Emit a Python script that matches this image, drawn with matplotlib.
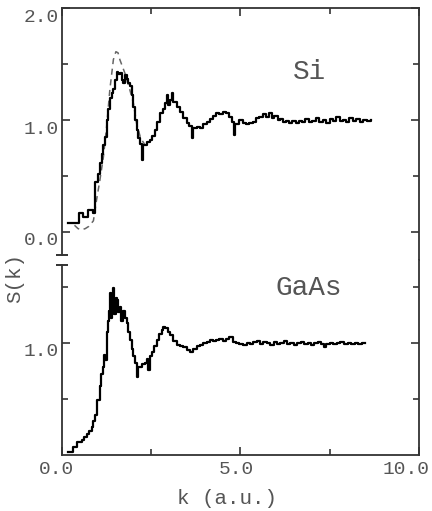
import numpy as np
import matplotlib
matplotlib.use("Agg")
import matplotlib.pyplot as plt
from matplotlib.transforms import ScaledTranslation

plt.rcParams['font.family'] = ['Liberation Mono', 'DejaVu Sans Mono']

# Si: measured S(k) (solid) and model curve (dashed)
si_k = [0.17, 0.49, 0.60, 0.74, 0.88, 0.92, 1.00, 1.06, 1.11, 1.16, 1.20, 1.25, 1.30, 1.34,
        1.39, 1.44, 1.48, 1.53, 1.58, 1.62, 1.67, 1.72, 1.76, 1.81, 1.86, 1.90, 1.95, 2.00,
        2.05, 2.09, 2.14, 2.18, 2.23, 2.27, 2.32, 2.39, 2.46, 2.53, 2.60, 2.67, 2.75, 2.82,
        2.89, 2.93, 2.98, 3.03, 3.08, 3.12, 3.21, 3.30, 3.40, 3.50, 3.57, 3.64, 3.68, 3.78,
        3.87, 3.96, 4.06, 4.15, 4.23, 4.31, 4.40, 4.50, 4.59, 4.68, 4.75, 4.82, 4.86, 4.96,
        5.06, 5.15, 5.25, 5.34, 5.43, 5.52, 5.62, 5.71, 5.80, 5.88, 5.94, 6.04, 6.12, 6.19,
        6.28, 6.36, 6.45, 6.55, 6.64, 6.73, 6.82, 6.91, 7.00, 7.11, 7.20, 7.30, 7.40, 7.50,
        7.59, 7.68, 7.78, 7.87, 7.96, 8.04, 8.14, 8.24, 8.34, 8.44, 8.54, 8.66]
si_s = [0.08, 0.17, 0.13, 0.20, 0.17, 0.45, 0.52, 0.62, 0.70, 0.78, 0.85, 1.00, 1.10, 1.20,
        1.24, 1.28, 1.36, 1.43, 1.41, 1.42, 1.36, 1.33, 1.40, 1.37, 1.33, 1.30, 1.22, 1.12,
        1.00, 0.91, 0.84, 0.79, 0.64, 0.78, 0.78, 0.80, 0.82, 0.86, 0.91, 0.98, 1.06, 1.10,
        1.15, 1.22, 1.13, 1.18, 1.24, 1.16, 1.12, 1.07, 1.02, 0.97, 0.95, 0.84, 0.93, 0.94,
        0.93, 0.96, 0.98, 1.01, 1.04, 1.06, 1.05, 1.07, 1.06, 1.03, 0.98, 0.87, 0.96, 1.00,
        0.97, 0.96, 0.97, 0.98, 1.02, 1.03, 1.05, 1.03, 1.06, 1.02, 1.04, 1.00, 1.01, 0.98,
        0.99, 0.97, 0.99, 0.97, 0.99, 0.98, 1.01, 0.98, 0.99, 1.02, 0.98, 1.00, 0.97, 1.01,
        0.99, 1.03, 0.99, 1.00, 0.98, 1.02, 0.99, 1.01, 0.98, 1.00, 0.99, 1.00]

si_model_k = [0.35, 0.45, 0.55, 0.65, 0.75, 0.88, 0.97, 1.06, 1.16, 1.25, 1.34, 1.44, 1.51,
              1.57, 1.62, 1.76, 1.90, 2.00, 2.09, 2.20, 2.32]
si_model_s = [0.06, 0.03, 0.02, 0.03, 0.05, 0.10, 0.29, 0.46, 0.67, 0.94, 1.27, 1.54, 1.61,
              1.60, 1.54, 1.42, 1.27, 1.15, 0.97, 0.84, 0.78]

# GaAs: measured S(k)
gaas_k = [0.18, 0.32, 0.41, 0.55, 0.62, 0.69, 0.76, 0.83, 0.88, 0.92, 0.99, 1.06, 1.10, 1.14,
          1.18, 1.21, 1.25, 1.30, 1.33, 1.34, 1.37, 1.41, 1.44, 1.47, 1.50, 1.53, 1.57, 1.62,
          1.66, 1.72, 1.76, 1.81, 1.86, 1.90, 1.95, 2.00, 2.05, 2.09, 2.12, 2.18, 2.25, 2.32,
          2.37, 2.42, 2.46, 2.51, 2.58, 2.65, 2.72, 2.79, 2.84, 2.89, 2.96, 3.03, 3.12, 3.21,
          3.30, 3.40, 3.50, 3.59, 3.68, 3.77, 3.86, 3.96, 4.05, 4.15, 4.23, 4.31, 4.40, 4.50,
          4.59, 4.68, 4.78, 4.87, 4.97, 5.07, 5.17, 5.26, 5.36, 5.45, 5.55, 5.64, 5.74, 5.83,
          5.93, 6.02, 6.12, 6.21, 6.31, 6.40, 6.50, 6.59, 6.69, 6.78, 6.88, 6.97, 7.07, 7.16,
          7.26, 7.35, 7.40, 7.50, 7.60, 7.70, 7.80, 7.90, 8.00, 8.10, 8.20, 8.30, 8.40, 8.50]
gaas_s = [0.03, 0.07, 0.12, 0.13, 0.16, 0.19, 0.21, 0.25, 0.30, 0.36, 0.49, 0.62, 0.72, 0.79,
          0.89, 0.85, 1.10, 1.20, 1.29, 1.45, 1.22, 1.35, 1.49, 1.26, 1.40, 1.38, 1.28, 1.32,
          1.20, 1.29, 1.22, 1.18, 1.10, 1.03, 0.95, 0.88, 0.82, 0.70, 0.79, 0.79, 0.81, 0.82,
          0.86, 0.76, 0.88, 0.92, 0.97, 1.03, 1.08, 1.12, 1.14, 1.13, 1.10, 1.07, 1.02, 0.98,
          0.97, 0.96, 0.94, 0.92, 0.95, 0.97, 0.98, 1.00, 1.01, 1.03, 1.02, 1.03, 1.04, 1.02,
          1.04, 1.05, 1.01, 1.00, 0.99, 0.98, 1.00, 0.99, 1.01, 1.02, 0.99, 1.01, 1.00, 0.98,
          1.01, 0.99, 1.00, 1.02, 0.99, 1.00, 0.98, 1.00, 1.01, 0.99, 1.00, 0.98, 1.00, 1.01,
          0.99, 0.96, 0.99, 1.00, 0.99, 1.00, 1.01, 0.99, 1.00, 0.99, 1.00, 0.99, 1.00, 1.00]

text_col = '#555555'
spine_col = '#333333'

fig = plt.figure(figsize=(4.32, 5.11), dpi=100)
ax1 = fig.add_axes([0.1435, 0.4912, 0.8264, 0.4931])
ax2 = fig.add_axes([0.1435, 0.1096, 0.8264, 0.3816])

ax1.plot(si_model_k, si_model_s, color='#666666', lw=1.1, ls=(0, (4, 3)), zorder=2)
ax1.step(si_k, si_s, where='post', color='black', lw=1.6, zorder=3)
ax2.step(gaas_k, gaas_s, where='post', color='black', lw=1.6, zorder=3)

ax1.set_xlim(0, 10)
ax2.set_xlim(0, 10)
ax1.set_ylim(-0.25, 2.0)
ax2.set_ylim(0, 1.741)

for ax in (ax1, ax2):
    for sp in ax.spines.values():
        sp.set_color(spine_col)
        sp.set_linewidth(1.3)
    ax.set_xticks([0, 5, 10])
    ax.set_xticks([2.5, 7.5], minor=True)
    ax.tick_params(which='both', direction='in', left=True, right=True, color=spine_col,
                   labelcolor=text_col, labelsize=14)
    ax.tick_params(which='major', length=6, width=1.2)
    ax.tick_params(which='minor', length=4.5, width=1.2)
    ax.tick_params(axis='y', pad=2)

ax1.spines['bottom'].set_visible(False)
ax2.spines['top'].set_visible(False)
ax1.spines['left'].set_bounds(-0.205, 2.0)
ax2.spines['left'].set_bounds(0, 1.70)
ax1.plot(0, -0.205, marker='_', ms=9, mew=1.4, color=spine_col,
         transform=ax1.get_yaxis_transform(), clip_on=False)
ax2.plot(0, 1.70, marker='_', ms=9, mew=1.4, color=spine_col,
         transform=ax2.get_yaxis_transform(), clip_on=False)

ax1.tick_params(axis='x', which='both', bottom=False, top=True, labelbottom=False)
ax2.tick_params(axis='x', which='both', bottom=True, top=False, pad=4)

ax1.set_yticks([0, 1, 2], ['0.0', '1.0', '2.0'])
ax1.set_yticks([0.5, 1.5], minor=True)
ax2.set_yticks([1], ['1.0'])
ax2.set_yticks([0.5, 1.5], minor=True)
ax2.set_xticklabels(['0.0', '5.0', '10.0'])

# scanned labels sit a little below / left of their ticks
for ax in (ax1, ax2):
    for t in ax.yaxis.get_major_ticks():
        t.label1.set_transform(t.label1.get_transform() +
                               ScaledTranslation(0, -0.07, fig.dpi_scale_trans))
for t, dx in zip(ax2.xaxis.get_major_ticks(), [-0.05, -0.04, -0.13]):
    t.label1.set_transform(t.label1.get_transform() +
                           ScaledTranslation(dx, 0, fig.dpi_scale_trans))

ax1.text(6.92, 1.43, 'Si', fontsize=20, color=text_col, ha='center', va='center')
ax2.text(6.92, 1.49, 'GaAs', fontsize=20, color=text_col, ha='center', va='center')

fig.text(0.525, 0.025, 'k (a.u.)', fontsize=15, color=text_col, ha='center', va='center')
fig.text(0.035, 0.456, 'S(k)', fontsize=15, color=text_col, ha='center', va='center',
         rotation=90)

fig.savefig('out.png', dpi=100)
